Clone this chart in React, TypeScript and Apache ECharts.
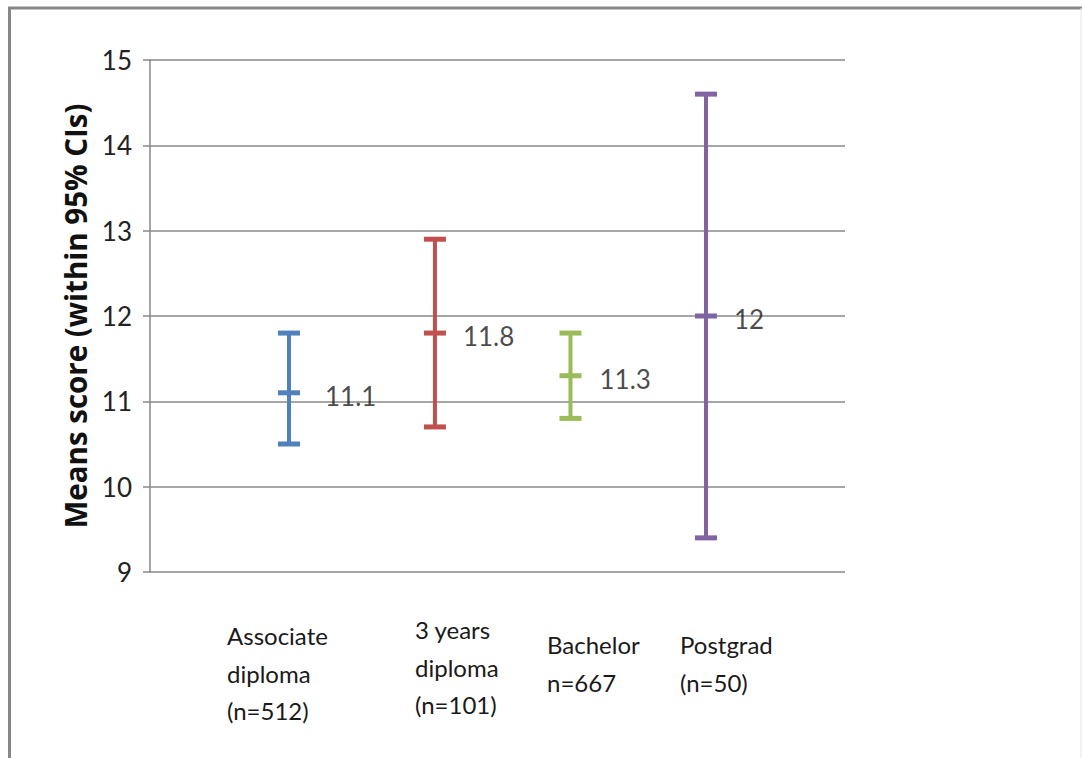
import React, { useEffect, useRef } from "react";
import * as echarts from "echarts";

// Education groups, their positions along the (hidden) x scale, and the 95% CI summary
const categories = ["Associate\ndiploma\n(n=512)", "3 years\ndiploma\n(n=101)", "Bachelor\nn=667", "Postgrad\n(n=50)"];
const xPositions = [20, 41, 60.5, 80];
const lowerCI = [10.5, 10.7, 10.8, 9.4];
const means = [11.1, 11.8, 11.3, 12];
const upperCI = [11.8, 12.9, 11.8, 14.6];
const colors = ["#4F81BD", "#C0504D", "#9BBB59", "#8064A2"];
const yTicks = [9, 10, 11, 12, 13, 14, 15];

// Placement of the multi-line category captions under the plot
const captionLeft = [227, 415, 547, 680];
const captionTop = [617, 611, 626, 626];
// Horizontal gap between each bar and its mean label
const labelGap = [36, 28, 29, 28];

const FONT = "Lato, 'Liberation Sans', sans-serif";

export default function App() {
  const ref = useRef<HTMLDivElement>(null);

  useEffect(() => {
    if (!ref.current) return;
    const chart = echarts.init(ref.current, null, { renderer: "svg" });

    const barData = xPositions.map((x, i) => [x, lowerCI[i], means[i], upperCI[i]]);
    const meanData = xPositions.map((x, i) => ({
      value: [x, means[i]],
      label: { distance: labelGap[i] },
    }));

    chart.setOption({
      animation: false,
      backgroundColor: "#ffffff",
      grid: { left: 150, right: 237, top: 60, bottom: 186, containLabel: false },
      xAxis: {
        type: "value",
        min: 0,
        max: 100,
        show: false,
      },
      yAxis: {
        type: "value",
        min: yTicks[0],
        max: yTicks[yTicks.length - 1],
        interval: 1,
        name: "Means score (within 95% CIs)",
        nameLocation: "middle",
        nameGap: 55,
        nameTextStyle: { fontFamily: "'Open Sans', Lato, sans-serif", fontWeight: "bold", fontSize: 29.5, color: "#111" },
        axisLine: { show: true, lineStyle: { color: "#888888", width: 1.5 } },
        axisTick: { show: true, length: 7, lineStyle: { color: "#888888", width: 1.5 } },
        axisLabel: { fontFamily: FONT, fontSize: 26, color: "#222", margin: 18 },
        splitLine: { show: true, lineStyle: { color: "#888888", width: 1.5 } },
      },
      series: [
        {
          type: "custom",
          data: barData,
          clip: false,
          renderItem: (params: any, api: any) => {
            const i = params.dataIndex;
            const x = api.value(0);
            const lo = api.coord([x, api.value(1)]);
            const mid = api.coord([x, api.value(2)]);
            const hi = api.coord([x, api.value(3)]);
            const half = 11;
            const color = colors[i];
            const cap = (p: number[]) => ({
              type: "line",
              shape: { x1: p[0] - half, y1: p[1], x2: p[0] + half, y2: p[1] },
              style: { stroke: color, lineWidth: 5 },
            });
            return {
              type: "group",
              children: [
                {
                  type: "line",
                  shape: { x1: lo[0], y1: lo[1], x2: hi[0], y2: hi[1] },
                  style: { stroke: color, lineWidth: 4 },
                },
                cap(lo),
                cap(mid),
                cap(hi),
              ],
            };
          },
          z: 3,
        },
        {
          type: "scatter",
          data: meanData,
          symbolSize: 0,
          silent: true,
          label: {
            show: true,
            position: "right",
            offset: [0, 3],
            formatter: (p: any) => String(p.value[1]),
            fontFamily: FONT,
            fontSize: 26,
            color: "#1a1a1a",
          },
          z: 4,
        },
      ],
      graphic: [
        // chart frame
        { type: "line", shape: { x1: 8, y1: 8, x2: 1082, y2: 8 }, style: { stroke: "#888888", lineWidth: 3 } },
        { type: "line", shape: { x1: 9.5, y1: 7, x2: 9.5, y2: 758 }, style: { stroke: "#888888", lineWidth: 3 } },
        { type: "line", shape: { x1: 1081, y1: 8, x2: 1081, y2: 758 }, style: { stroke: "#e6e6e6", lineWidth: 1 } },
        ...categories.map((c, i) => ({
          type: "text",
          left: captionLeft[i],
          top: captionTop[i],
          style: {
            text: c,
            fontFamily: FONT,
            fontSize: 24,
            lineHeight: 37.5,
            fill: "#1a1a1a",
          },
        })),
      ],
    });

    return () => chart.dispose();
  }, []);

  return (
    <div
      ref={ref}
      style={{ position: "fixed", left: 0, top: 0, width: 1082, height: 758 }}
    />
  );
}
